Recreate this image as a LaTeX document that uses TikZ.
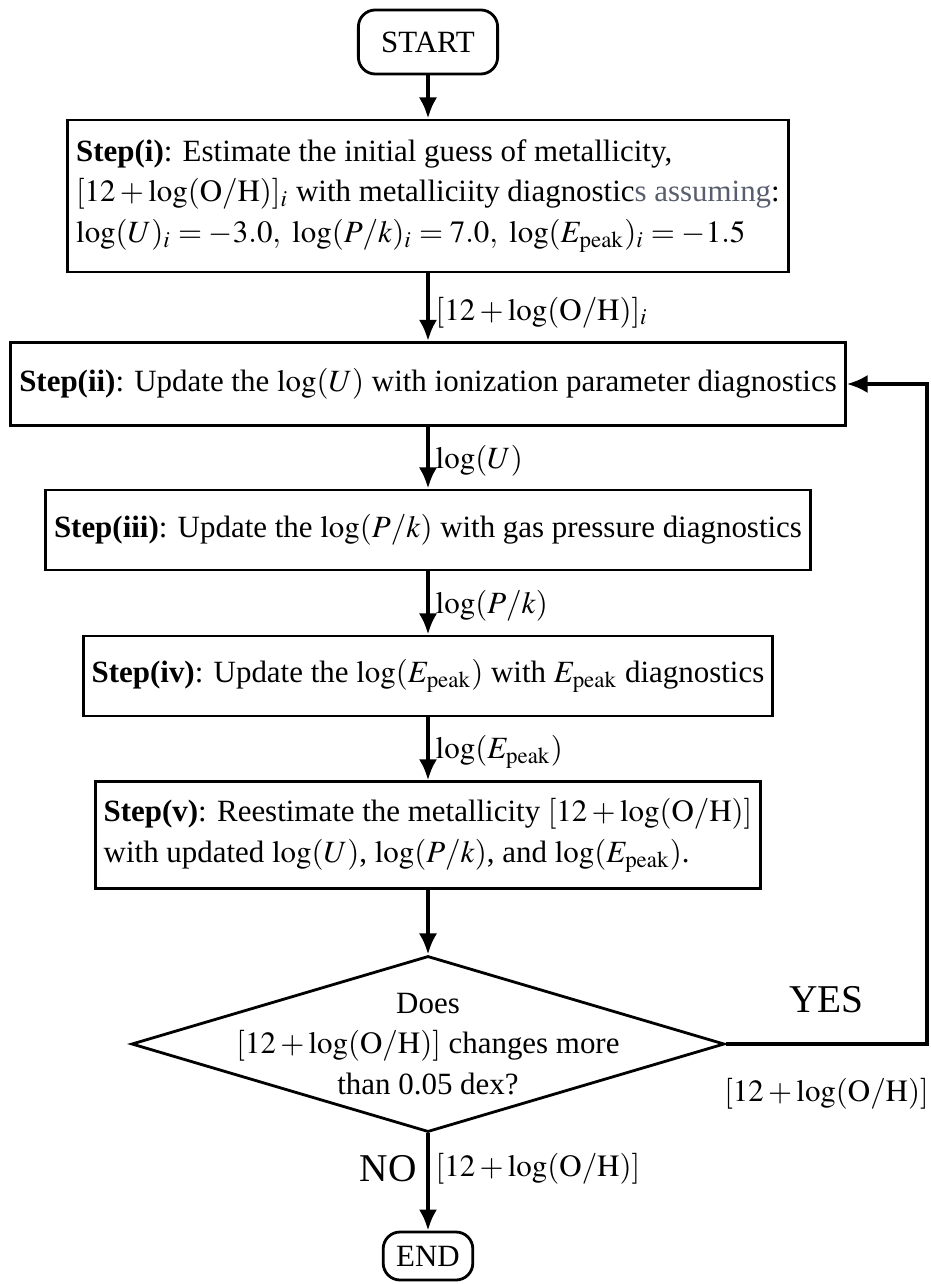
\documentclass[tikz,border=0pt]{standalone}
\usepackage{mathptmx}
\usepackage[no-math]{fontspec}
\setmainfont{Liberation Serif}
\usepackage{amsmath}
\usepackage {tikz}
\usetikzlibrary {positioning}
\usetikzlibrary{shapes.geometric}
\usetikzlibrary{arrows.meta}
\definecolor{slate}{RGB}{88,94,110}
\tikzset{
    term/.style = {rectangle,rounded corners=6pt,draw,line width=1pt,minimum width=1.74cm,minimum height=0.8cm,inner sep=0pt},
    stepbox/.style = {rectangle,draw,line width=1pt,align=left,inner xsep=3pt},
    decision/.style = {diamond,draw,line width=1pt,inner sep=0pt,minimum width=7.41cm,minimum height=2.2cm},
    flow/.style = {line width=1.5pt,-{Latex[length=7.5pt,width=6.5pt]}},
    flowlabel/.style = {right,inner sep=2pt},
    bigword/.style = {font=\fontsize{14}{16}\selectfont}}
\newcommand{\OH}{[12+\log(\mathrm{O/H})]}
\newcommand{\Epk}{E_{\mathrm{peak}}}

\begin{document}
\begin{tikzpicture}[x=0.0125cm,y=-0.0125cm,font=\fontsize{11}{14.5}\selectfont]
        \useasboundingbox (0,0) rectangle (930,1284);
        % boxes down the middle
        \node[term] (start) at (428,42) {START};
        \node[stepbox,minimum height=1.9cm] (s1) at (428,196)
            {\textbf{Step(i)}: Estimate the initial guess of metallicity,\\
             $\OH_i$ with metalliciity diagnostic\textcolor{slate}{s assuming}:\\
             $\log(U)_i=-3.0,\ \log(P/k)_i=7.0,\ \log(\Epk)_i=-1.5$};
        \node[stepbox,minimum height=1.04cm] (s2) at (428,384)
            {\textbf{Step(ii)}: Update the $\log(U)$ with ionization parameter diagnostics};
        \node[stepbox,minimum height=1cm] (s3) at (428,530)
            {\textbf{Step(iii)}: Update the $\log(P/k)$ with gas pressure diagnostics};
        \node[stepbox,minimum height=1cm] (s4) at (428,676)
            {\textbf{Step(iv)}: Update the $\log(\Epk)$ with $\Epk$ diagnostics};
        \node[stepbox,minimum height=1.33cm] (s5) at (428,835)
            {\textbf{Step(v)}: Reestimate the metallicity $\OH$\\
             with updated $\log(U)$, $\log(P/k)$, and $\log(\Epk)$.};
        \node[decision] (check) at (428,1044) {};
        \node[align=center] (checktext) at (check.center)
            {Does\\ $\OH$ changes more\\ than 0.05 dex?};
        \node[term,minimum width=1.12cm,minimum height=0.6cm] (end) at (428,1256) {END};
        \coordinate (loop) at (927,1044);

        \draw[flow] (start) -- (s1);
        \draw[flow] (s1) -- node[flowlabel,pos=0.58] {$\OH_i$} (s2);
        \draw[flow] (s2) -- node[flowlabel,pos=0.55] {$\log(U)$} (s3);
        \draw[flow] (s3) -- node[flowlabel,pos=0.55] {$\log(P/k)$} (s4);
        \draw[flow] (s4) -- node[flowlabel,pos=0.55] {$\log(\Epk)$} (s5);
        \draw[flow] (s5) -- (check);
        \draw[flow] (check) -- node[flowlabel,pos=0.36] {$\OH$}
            node[left,bigword,pos=0.36] {NO} (end);
        \draw[flow] (check.east) -- node[above=7pt,bigword] {YES}
            node[below=8pt] {$\OH$} (loop) |- (s2.east);
\end{tikzpicture}
\end{document}
